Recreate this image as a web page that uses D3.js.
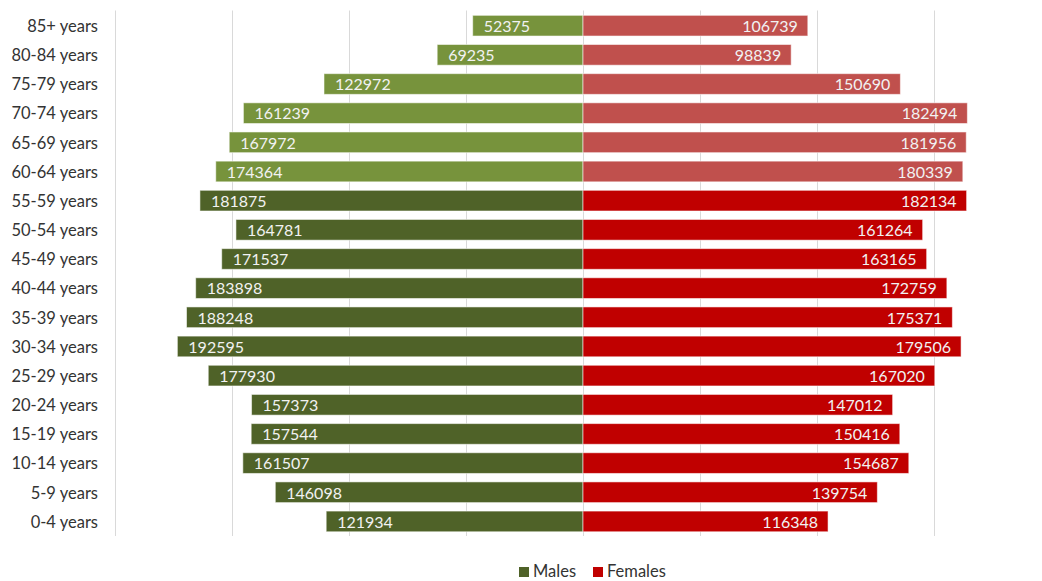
<!DOCTYPE html>
<html>
<head>
<meta charset="utf-8">
<script src="https://cdn.jsdelivr.net/npm/d3@7"></script>
<style>
  html, body { margin: 0; padding: 0; background: #fff; }
  svg { display: block; font-family: Lato, "Open Sans", sans-serif; }
</style>
</head>
<body>
<svg id="chart" width="1042" height="581"></svg>
<script>
// Age groups, top (oldest) to bottom (youngest)
const ageGroups = ["85+ years", "80-84 years", "75-79 years", "70-74 years", "65-69 years",
  "60-64 years", "55-59 years", "50-54 years", "45-49 years", "40-44 years", "35-39 years",
  "30-34 years", "25-29 years", "20-24 years", "15-19 years", "10-14 years", "5-9 years", "0-4 years"];
const males = [52375, 69235, 122972, 161239, 167972, 174364, 181875, 164781, 171537,
  183898, 188248, 192595, 177930, 157373, 157544, 161507, 146098, 121934];
const females = [106739, 98839, 150690, 182494, 181956, 180339, 182134, 161264, 163165,
  172759, 175371, 179506, 167020, 147012, 150416, 154687, 139754, 116348];
// Groups aged 60 and over get the lighter shades
const seniorGroups = ["85+ years", "80-84 years", "75-79 years", "70-74 years", "65-69 years", "60-64 years"];
const seriesNames = ["Males", "Females"];

const colors = {
  Males: { senior: "#77933C", base: "#4F6228" },
  Females: { senior: "#C0504D", base: "#C00000" }
};

const svg = d3.select("#chart");
const plot = { left: 115, right: 1051, top: 10.5, bottom: 536 };
const axisMax = 222200;

const x = d3.scaleLinear().domain([-axisMax, axisMax]).range([plot.left, plot.right]);
const y = d3.scaleBand().domain(ageGroups).range([plot.top + 0.6, plot.bottom]).paddingInner(0.29).paddingOuter(0.145);

// Vertical gridlines
const gridVals = d3.range(-4, 5).map(i => i * axisMax / 4);
svg.append("g").selectAll("line").data(gridVals).join("line")
  .attr("x1", d => Math.round(x(d)) + 0.5).attr("x2", d => Math.round(x(d)) + 0.5)
  .attr("y1", plot.top).attr("y2", plot.bottom)
  .attr("stroke", "#D9D9D9").attr("stroke-width", 1);

const rows = ageGroups.map((g, i) => ({ group: g, m: males[i], f: females[i], senior: seniorGroups.includes(g) }));

// Male bars extend left of centre
svg.append("g").selectAll("rect").data(rows).join("rect")
  .attr("x", d => x(-d.m)).attr("y", d => y(d.group))
  .attr("width", d => x(0) - x(-d.m)).attr("height", y.bandwidth())
  .attr("fill", d => d.senior ? colors.Males.senior : colors.Males.base)
  .attr("stroke", "rgba(255,255,255,0.55)").attr("stroke-width", 1);

// Female bars extend right of centre
svg.append("g").selectAll("rect").data(rows).join("rect")
  .attr("x", x(0)).attr("y", d => y(d.group))
  .attr("width", d => x(d.f) - x(0)).attr("height", y.bandwidth())
  .attr("fill", d => d.senior ? colors.Females.senior : colors.Females.base)
  .attr("stroke", "rgba(255,255,255,0.55)").attr("stroke-width", 1);

// Value labels inside the bar ends
svg.append("g").selectAll("text").data(rows).join("text")
  .attr("x", d => x(-d.m) + 11).attr("y", d => y(d.group) + y.bandwidth() / 2 + 0.5)
  .attr("dy", "0.36em").attr("font-size", 16).attr("fill", "#F2F2F2")
  .text(d => d.m);
svg.append("g").selectAll("text").data(rows).join("text")
  .attr("x", d => x(d.f) - 10).attr("y", d => y(d.group) + y.bandwidth() / 2 + 0.5)
  .attr("dy", "0.36em").attr("font-size", 16).attr("fill", "#F2F2F2")
  .attr("text-anchor", "end")
  .text(d => d.f);

// Category axis on the left
const yAxis = svg.append("g").attr("transform", `translate(${plot.left},1)`)
  .call(d3.axisLeft(y).tickSize(0).tickPadding(17));
yAxis.select(".domain").remove();
yAxis.selectAll("text").attr("font-size", 16.5).attr("fill", "#333333")
  .attr("font-family", "Lato, 'Open Sans', sans-serif");

// Legend
const legend = svg.append("g").attr("transform", "translate(519,572)");
const legendX = [0, 74];
seriesNames.forEach((name, i) => {
  const g = legend.append("g").attr("transform", `translate(${legendX[i]},0)`);
  g.append("rect").attr("x", 0).attr("y", -5).attr("width", 10).attr("height", 10)
    .attr("fill", colors[name].base);
  g.append("text").attr("x", 14).attr("y", 5)
    .attr("font-size", 16.5).attr("fill", "#333333").text(name);
});
</script>
</body>
</html>
